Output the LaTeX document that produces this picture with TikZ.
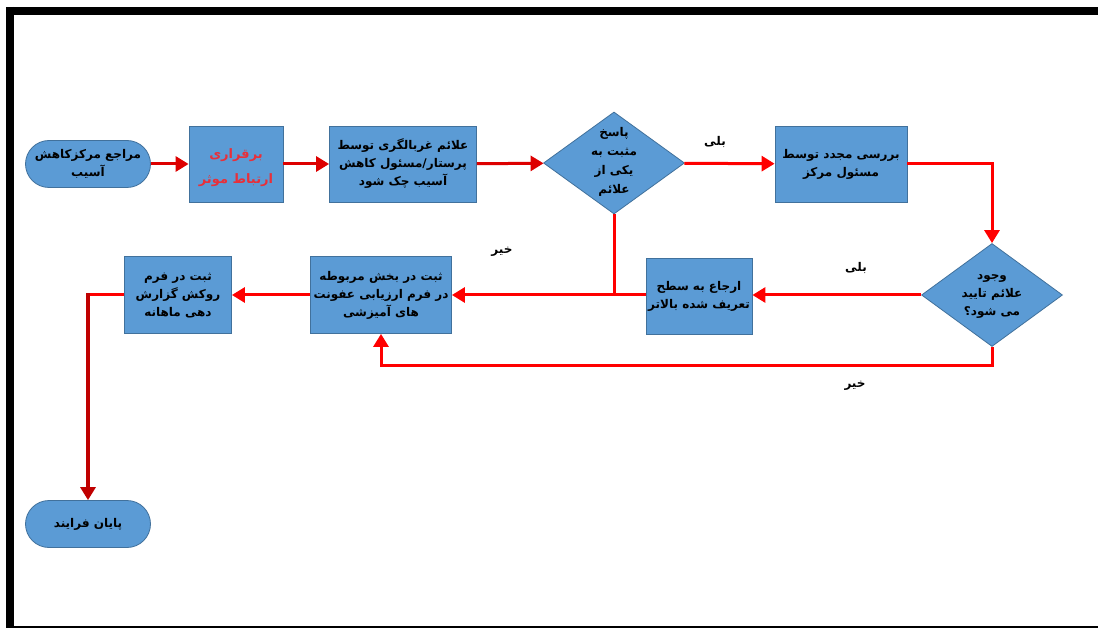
\documentclass[tikz,border=0pt]{standalone}
\usepackage{fontspec}
\usetikzlibrary{shapes.geometric,arrows.meta,calc}
\TeXXeTstate=1
\newfontfamily\arabicfont[Script=Arabic]{DejaVu Sans}
\newcommand{\fa}[1]{\beginR #1\endR}
\definecolor{boxblue}{HTML}{5B9BD5}
\definecolor{boxline}{HTML}{41719C}
\definecolor{arrred}{HTML}{FF0000}
\definecolor{midred}{HTML}{DD0000}
\definecolor{darkred}{HTML}{C00000}
\definecolor{txtred}{HTML}{E8303A}
\tikzset{
  box/.style={rectangle, draw=boxline, fill=boxblue, line width=0.8pt,
    font=\arabicfont\bfseries\fontsize{12}{18}\selectfont, align=center, inner sep=0pt},
  term/.style={box, rounded corners=23.5pt, minimum width=125pt, minimum height=47pt},
  dia/.style={diamond, draw=boxline, fill=boxblue, line width=0.8pt, inner sep=0pt},
  diatext/.style={font=\arabicfont\bfseries\fontsize{12}{19}\selectfont, align=center, inner sep=0pt},
  lbl/.style={font=\arabicfont\bfseries\fontsize{12}{14}\selectfont, inner sep=0pt},
  conn/.style={draw=arrred, line width=3pt},
  arr/.style={conn, -{Triangle[length=13pt,width=15pt]}},
  marr/.style={arr, draw=midred},
  darr/.style={draw=darkred, line width=4pt, -{Triangle[length=13pt,width=15pt]}},
}
\begin{document}
\begin{tikzpicture}[x=1pt,y=-1pt]
\useasboundingbox (0,0) rectangle (1098,628);
\fill[white] (0,0) rectangle (1098,628);
% frame
\draw[line width=8pt, black] (6,11) -- (1098,11);
\draw[line width=8pt, black] (10,7) -- (10,628);
\draw[line width=1.5pt, black] (10,627) -- (1098,627);

% nodes
\node[term] (start) at (88,164) {\fa{مراجع مرکزکاهش}\\\fa{آسیب}};
\node[box, minimum width=94pt, minimum height=76pt] (b2) at (236,164) {};
\node[text=txtred, align=center, inner sep=0pt,
      font=\arabicfont\bfseries\fontsize{13}{25}\selectfont] (b2t) at (236,168) {\fa{برقراری}\\\fa{ارتباط موثر}};
\node[box, minimum width=147pt, minimum height=76pt] (b3) at (403,164) {\fa{علائم غربالگری توسط}\\\fa{پرستار/مسئول کاهش}\\\fa{آسیب چک شود}};
\node[dia, minimum width=141pt, minimum height=102pt] (d1) at (614,163) {};
\node[diatext] (d1t) at (614,162) {\fa{پاسخ}\\\fa{مثبت به}\\\fa{یکی از}\\\fa{علائم}};
\node[box, minimum width=132pt, minimum height=76pt] (b4) at (841,164) {\fa{بررسی مجدد توسط}\\\fa{مسئول مرکز}};
\node[dia, minimum width=141pt, minimum height=103pt] (d2) at (992,295) {};
\node[diatext, font=\arabicfont\bfseries\fontsize{12}{18}\selectfont] (d2t) at (992,296) {\fa{وجود}\\\fa{علائم تایید}\\\fa{می شود؟}};
\node[box, minimum width=106pt, minimum height=76pt] (b5) at (699,296) {\fa{ارجاع به سطح}\\\fa{تعریف شده بالاتر}};
\node[box, minimum width=141pt, minimum height=77pt] (b6) at (381,295) {\fa{ثبت در بخش مربوطه}\\\fa{در  فرم ارزیابی عفونت}\\\fa{های آمیزشی}};
\node[box, minimum width=107pt, minimum height=77pt] (b7) at (178,295) {\fa{ثبت در فرم}\\\fa{روکش گزارش}\\\fa{دهی ماهانه}};
\node[term] (end) at (88,524) {\fa{پایان فرایند}};

% labels
\node[lbl] (yes1) at (715,142) {\fa{بلی}};
\node[lbl] (no1) at (502,252) {\fa{خیر}};
\node[lbl] (yes2) at (856,268) {\fa{بلی}};
\node[lbl] (no2) at (855,386) {\fa{خیر}};

% connectors
\coordinate (j1) at (d1.south |- b6.east);
\coordinate (corner) at (end.north |- b7.west);
\coordinate (loop) at ($(d2.south)+(0,19)$);
\draw[marr] (start) -- (b2);
\draw[marr] (b2) -- (b3);
\draw[marr] (b3) -- (d1);
\draw[arr] (d1) -- (b4);
\draw[arr] (b4.east) -| (d2.north);
\draw[arr] (d2.west) -- (d2.west -| b5.east);
\draw[conn] (d1.south) -- (j1);
\draw[arr] (b5.west |- j1) -- (b6.east);
\draw[arr] (b6) -- (b7);
\draw[conn] (b7.west) -- ($(corner)+(-1.5,0)$);
\draw[darr] ($(corner)+(0,-1.5)$) -- (end.north);
\draw[arr] (d2.south) -- (loop) -| (b6.south);
\end{tikzpicture}
\end{document}
